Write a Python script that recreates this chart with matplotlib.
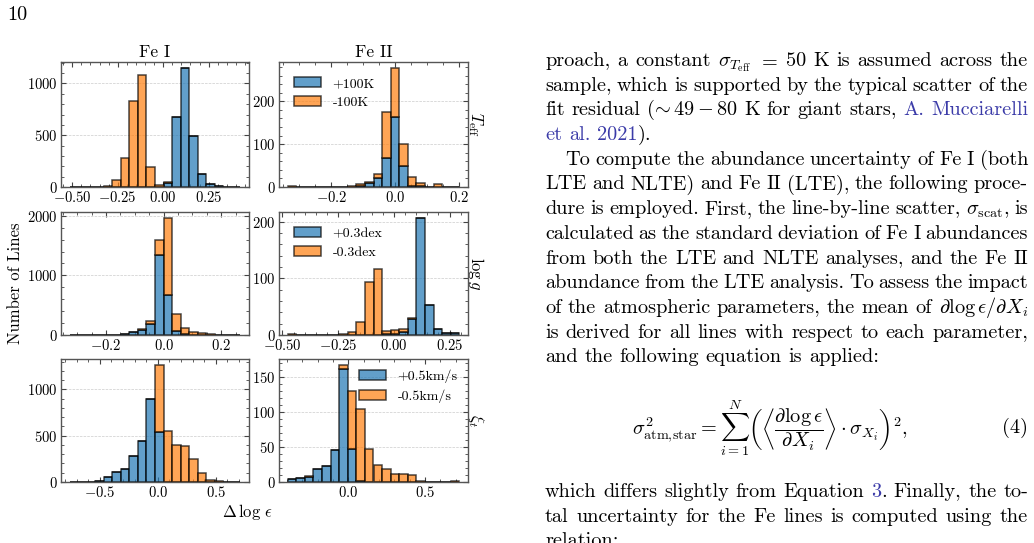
import numpy as np
import matplotlib
matplotlib.use("Agg")
import matplotlib.pyplot as plt
from matplotlib.ticker import AutoMinorLocator

plt.rcParams.update({
    "font.family": ["cmr10", "DejaVu Serif"],
    "mathtext.fontset": "cm",
    "axes.formatter.use_mathtext": True,
    "axes.unicode_minus": True,
})

# ---------------- data (counts per bin, 20 bins over the given range) -------------
teff_fe1_range = (-0.515, 0.425)
teff_fe1_plus = [0, 0, 0, 0, 0, 0, 0, 0, 0, 0, 2, 42, 677, 1150, 497, 126, 26, 5, 2, 1]
teff_fe1_minus = [1, 1, 1, 2, 6, 65, 281, 826, 1081, 190, 18, 3, 0, 0, 0, 0, 0, 0, 0, 0]

teff_fe2_range = (-0.337, 0.202)
teff_fe2_plus = [1, 0, 0, 0, 0, 1, 1, 1, 3, 9, 21, 67, 164, 49, 3, 2, 1, 1, 0, 1]
teff_fe2_minus = [1, 0, 0, 0, 1, 0, 0, 1, 4, 3, 10, 108, 114, 52, 20, 7, 0, 5, 1, 0]

logg_fe1_range = (-0.327, 0.267)
logg_fe1_plus = [1, 0, 0, 1, 2, 4, 15, 45, 88, 184, 1345, 670, 73, 22, 5, 2, 1, 0, 0, 0]
logg_fe1_minus = [0, 0, 0, 0, 0, 1, 2, 5, 12, 51, 255, 1295, 273, 90, 45, 26, 9, 3, 1, 1]

logg_fe2_range = (-0.477, 0.294)
logg_fe2_plus = [0, 0, 0, 0, 0, 0, 0, 0, 0, 0, 0, 1, 2, 6, 29, 207, 53, 10, 4, 3]
logg_fe2_minus = [1, 0, 0, 0, 0, 0, 1, 5, 23, 94, 117, 6, 6, 4, 1, 0, 0, 0, 0, 0]

xi_fe1_range = (-0.761, 0.713)
xi_fe1_plus = [1, 1, 2, 8, 54, 104, 143, 282, 443, 893, 539, 2, 0, 0, 0, 0, 0, 0, 0, 0]
xi_fe1_minus = [0, 0, 0, 0, 0, 0, 0, 0, 0, 5, 725, 546, 396, 389, 246, 100, 25, 15, 3, 1]

xi_fe2_range = (-0.396, 0.725)
xi_fe2_plus = [5, 6, 7, 18, 23, 46, 162, 48, 1, 0, 0, 0, 0, 0, 0, 0, 0, 0, 0, 0]
xi_fe2_minus = [0, 0, 1, 0, 0, 0, 6, 82, 103, 47, 24, 18, 11, 12, 10, 1, 0, 0, 0, 1]

col_titles = ["Fe I", "Fe II"]
row_labels = [r"$T_{\rm eff}$", r"$\log g$", r"$\xi_t$"]
legend_labels = [["+100K", "-100K"], ["+0.3dex", "-0.3dex"], ["+0.5km/s", "-0.5km/s"]]
xticks_fe1 = [[-0.5, -0.25, 0.0, 0.25], [-0.2, 0.0, 0.2], [-0.5, 0.0, 0.5]]
xticks_fe2 = [[-0.2, 0.0, 0.2], [-0.5, -0.25, 0.0, 0.25], [0.0, 0.5]]
yticks_fe1 = [[0, 500, 1000], [0, 1000, 2000], [0, 500, 1000]]
yticks_fe2 = [[0, 100, 200], [0, 100, 200], [0, 50, 100, 150]]

BLUE = "#1f77b4"
ORANGE = "#ff7f0e"
LINK = "#3b3ba8"

W, H = 1034, 543
fig = plt.figure(figsize=(W / 100, H / 100), dpi=100)


def px_axes(l, r, t, b):
    return fig.add_axes([l / W, 1 - b / H, (r - l) / W, (b - t) / H])


rows_px = [(62, 187), (212, 335), (359, 482)]
cols_px = [(61, 249), (279, 468)]

panels = [
    [(teff_fe1_range, teff_fe1_plus, teff_fe1_minus), (teff_fe2_range, teff_fe2_plus, teff_fe2_minus)],
    [(logg_fe1_range, logg_fe1_plus, logg_fe1_minus), (logg_fe2_range, logg_fe2_plus, logg_fe2_minus)],
    [(xi_fe1_range, xi_fe1_plus, xi_fe1_minus), (xi_fe2_range, xi_fe2_plus, xi_fe2_minus)],
]
xticks_all = [xticks_fe1, xticks_fe2]
yticks_all = [yticks_fe1, yticks_fe2]
legend_locs = ["upper left", "upper left", "upper right"]
legend_pads = [0.7, 0.7, 0.35]

for i, (t, b) in enumerate(rows_px):
    for j, (l, r) in enumerate(cols_px):
        ax = px_axes(l, r, t, b)
        (lo, hi), plus, minus = panels[i][j]
        edges = np.linspace(lo, hi, len(plus) + 1)
        centers = 0.5 * (edges[:-1] + edges[1:])
        ax.hist([centers, centers], bins=edges, weights=[plus, minus], stacked=True,
                color=[BLUE, ORANGE], edgecolor="black", linewidth=1.1, alpha=0.7,
                label=legend_labels[i])
        ax.set_xticks(xticks_all[j][i])
        ax.set_yticks(yticks_all[j][i])
        ax.xaxis.set_minor_locator(AutoMinorLocator())
        ax.yaxis.set_minor_locator(AutoMinorLocator())
        ax.tick_params(which="both", direction="in", top=True, right=True,
                       color="#444444", labelsize=10.5, pad=2.5)
        ax.tick_params(which="major", length=3.5, width=0.8)
        ax.tick_params(which="minor", length=2.0, width=0.6)
        ax.yaxis.grid(True, ls="--", lw=0.5, color="#cccccc")
        ax.set_axisbelow(True)
        for s in ax.spines.values():
            s.set_color("#555555")
            s.set_linewidth(1.0)
        if i == 0:
            ax.set_title(col_titles[j], fontsize=12.5, pad=3.5)
        if j == 1:
            ax.legend(loc=legend_locs[i], frameon=False, fontsize=10,
                      handlelength=1.95, handletextpad=0.8, labelspacing=0.45,
                      borderaxespad=legend_pads[i])
            ax.text(1.04, 0.5, row_labels[i], transform=ax.transAxes, rotation=270,
                    ha="center", va="center", fontsize=12)

fig.text(15 / W, 1 - 283 / H, "Number of Lines", rotation=90, ha="center", va="center", fontsize=12)
fig.text(247 / W, 1 - 517 / H, r"$\Delta\,\log\,\epsilon$", ha="center", va="baseline", fontsize=12)

# ---------------- page text ----------------
BODY = 14.6
fig.text(7 / W, 1 - 20 / H, "10", fontsize=BODY, va="baseline", ha="left")

renderer = fig.canvas.get_renderer()


def seg_width(s, c):
    t = fig.text(0, 0, s, fontsize=BODY, color=c)
    w = t.get_window_extent(renderer).width
    t.remove()
    return w


def draw_line(words, y, x0=545, x1=1028, justify=True):
    items = []
    for w in words:
        segs = w if isinstance(w, list) else [(w, "black")]
        items.append([(s, c, seg_width(s, c)) for s, c in segs])
    total = sum(sw for it in items for _, _, sw in it)
    natural = 0.333 * BODY * 100 / 72
    gap = (x1 - x0 - total) / (len(items) - 1) if (justify and len(items) > 1) else natural
    x = x0
    for it in items:
        for s, c, sw in it:
            fig.text(x / W, 1 - y / H, s, fontsize=BODY, color=c, va="baseline", ha="left")
            x += sw
        x += gap


K = "black"
lines = [
    (["proach,", "a", "constant", r"$\sigma_{T_{\rm eff}}$", "$=$", "50", "K", "is", "assumed", "across", "the"], True, 0),
    (["sample,", "which", "is", "supported", "by", "the", "typical", "scatter", "of", "the"], True, 0),
    (["fit", "residual", [("(", K), (r"$\!\!\sim 49-80$", K)], "K", "for", "giant", "stars,", [("A.", LINK)], [("Mucciarelli", LINK)]], True, 0),
    ([[("et", LINK)], [("al.", LINK)], [("2021", LINK), (").", K)]], False, 0),
    (["To", "compute", "the", "abundance", "uncertainty", "of", "Fe", "I", "(both"], True, 20),
    (["LTE", "and", "NLTE)", "and", "Fe", "II", "(LTE),", "the", "following", "proce-"], True, 0),
    (["dure", "is", "employed.", "First,", "the", "line-by-line", "scatter,", [(r"$\sigma_{\rm scat}$", K), (",", K)], "is"], True, 0),
    (["calculated", "as", "the", "standard", "deviation", "of", "Fe", "I", "abundances"], True, 0),
    (["from", "both", "the", "LTE", "and", "NLTE", "analyses,", "and", "the", "Fe", "II"], True, 0),
    (["abundance", "from", "the", "LTE", "analysis.", "To", "assess", "the", "impact"], True, 0),
    (["of", "the", "atmospheric", "parameters,", "the", "mean", "of", r"$\partial\log\epsilon/\partial X_i$"], True, 0),
    (["is", "derived", "for", "all", "lines", "with", "respect", "to", "each", "parameter,"], True, 0),
    (["and", "the", "following", "equation", "is", "applied:"], False, 0),
]
y0, dy = 66, 24.7
for k, (words, just, ind) in enumerate(lines):
    draw_line(words, y0 + k * dy, x0=545 + ind, justify=just)

fig.text(632 / W, 1 - 428 / H,
         r"$\sigma^2_{\mathrm{atm,\!star}} = \sum_{i=1}^{N}\left(\left\langle\dfrac{\partial\log\epsilon}{\partial X_i}\right\rangle\cdot\sigma_{X_i}\right)^2,$",
         fontsize=BODY, ha="left", va="center")
fig.text(1028 / W, 1 - 433 / H, "(4)", fontsize=BODY, ha="right", va="baseline")

lines2 = [
    (["which", "differs", "slightly", "from", "Equation", [("3", LINK), (".", K)], "Finally,", "the", "to-"], True, 0),
    (["tal", "uncertainty", "for", "the", "Fe", "lines", "is", "computed", "using", "the"], True, 0),
    (["relation:"], False, 0),
]
for k, (words, just, ind) in enumerate(lines2):
    draw_line(words, 497 + k * dy, x0=545 + ind, justify=just)

fig.savefig("out.png", dpi=100)
